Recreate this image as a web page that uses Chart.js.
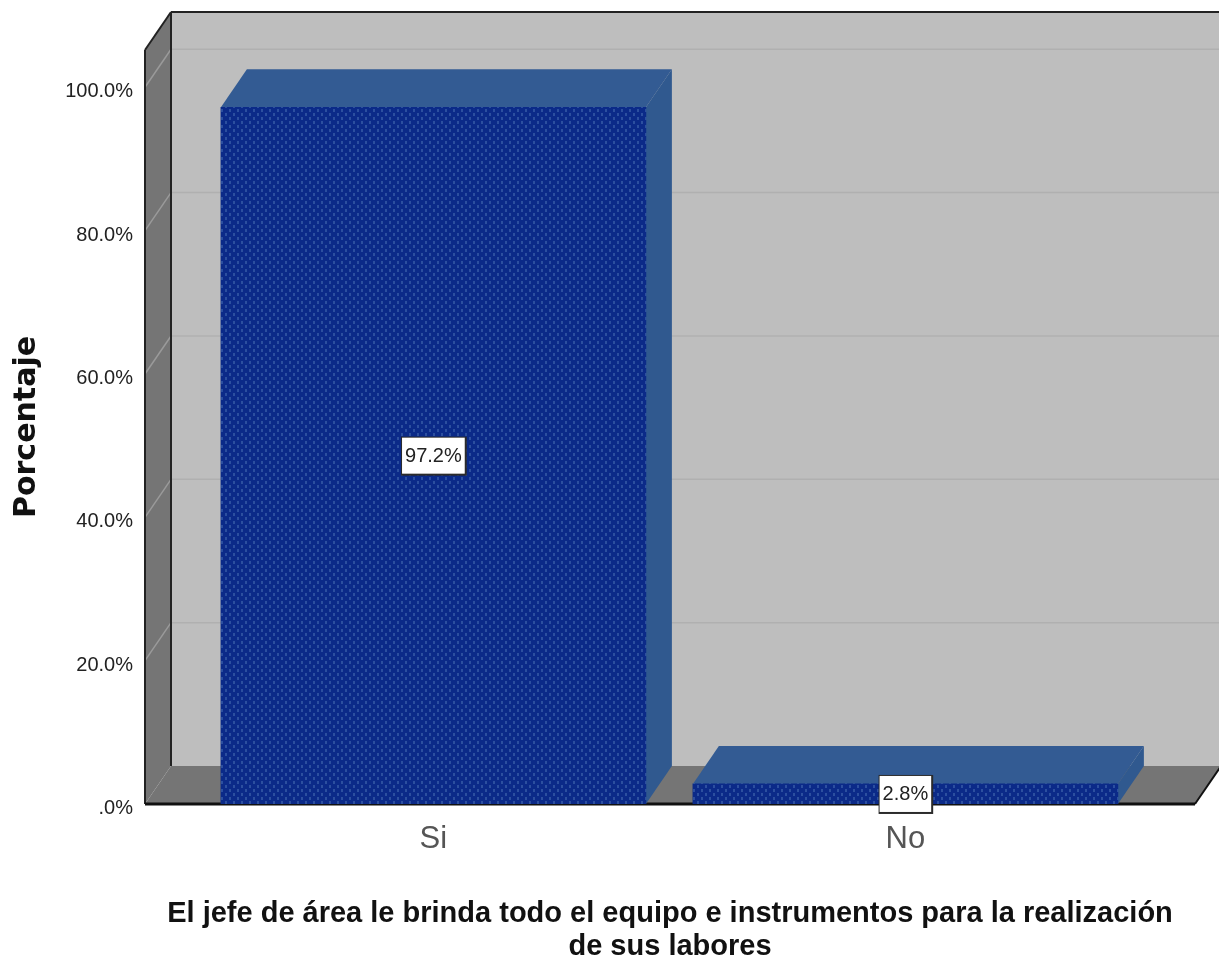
<!DOCTYPE html>
<html lang="es">
<head>
    <meta charset="UTF-8">
    <title>Porcentaje</title>
    <script src="https://cdn.jsdelivr.net/npm/chart.js"></script>
    <style>
        html, body { margin: 0; background: #fff; }
        canvas { display: block; }
    </style>
</head>
<body>
<canvas id="barChart" width="1219" height="961"></canvas>

<script>
    const categories = ["Si", "No"];
    const porcentajes = [97.2, 2.8];
    const yTicks = [0, 20, 40, 60, 80, 100];
    const xTitle = ["El jefe de área le brinda todo el equipo e instrumentos para la realización", "de sus labores"];
    const yTitle = "Porcentaje";

    // 3D depth of the SPSS style box, in pixels
    const DX = 26, DY = 38;
    const SANS = '"Liberation Sans"';

    // dotted fill of the front of the bars
    function barPattern() {
        const c = document.createElement('canvas');
        c.width = 8; c.height = 8;
        const g = c.getContext('2d');
        g.fillStyle = '#0b2a88';
        g.fillRect(0, 0, 8, 8);
        g.fillStyle = '#2c4f9f';
        g.fillRect(1, 1, 2, 3);
        g.fillRect(5, 5, 2, 3);
        return g.createPattern(c, 'repeat');
    }

    function poly(ctx, pts, fill) {
        ctx.beginPath();
        pts.forEach((p, i) => i ? ctx.lineTo(p[0], p[1]) : ctx.moveTo(p[0], p[1]));
        ctx.closePath();
        ctx.fillStyle = fill;
        ctx.fill();
    }

    function seg(ctx, x1, y1, x2, y2, color, w) {
        ctx.beginPath();
        ctx.moveTo(x1, y1);
        ctx.lineTo(x2, y2);
        ctx.strokeStyle = color;
        ctx.lineWidth = w;
        ctx.stroke();
    }

    // walls, floor and grid behind the bars
    const boxPlugin = {
        id: 'box',
        beforeDatasetsDraw(chart) {
            const ctx = chart.ctx, a = chart.chartArea, y = chart.scales.y;
            const l = a.left, r = a.right, t = a.top, b = a.bottom;
            ctx.save();
            poly(ctx, [[l + DX, t - DY], [1219, t - DY], [1219, b - DY], [l + DX, b - DY]], '#bebebe');
            poly(ctx, [[l, t], [l + DX, t - DY], [l + DX, b - DY], [l, b]], '#757575');
            poly(ctx, [[l, b], [l + DX, b - DY], [r + DX, b - DY], [r, b]], '#757575');
            yTicks.slice(1).forEach(v => {
                const py = y.getPixelForValue(v);
                seg(ctx, l, py, l + DX, py - DY, '#9a9a9a', 1.5);
                seg(ctx, l + DX, py - DY, 1219, py - DY, '#b0b0b0', 1.5);
            });
            seg(ctx, l + DX, t - DY, 1219, t - DY, '#222', 2);
            seg(ctx, l + DX, t - DY, l + DX, b - DY, '#222', 2);
            seg(ctx, l, t, l + DX, t - DY, '#222', 2);
            seg(ctx, l, t, l, b, '#222', 2);
            seg(ctx, l, b, r, b, '#111', 3);
            seg(ctx, r, b, r + DX, b - DY, '#111', 2);

            // top and side faces of each bar
            chart.getDatasetMeta(0).data.forEach(bar => {
                const x1 = bar.x - bar.width / 2, x2 = bar.x + bar.width / 2;
                poly(ctx, [[x1, bar.y], [x1 + DX, bar.y - DY], [x2 + DX, bar.y - DY], [x2, bar.y]], '#335b93');
                poly(ctx, [[x2, bar.y], [x2 + DX, bar.y - DY], [x2 + DX, b - DY], [x2, b]], '#30598f');
            });
            ctx.restore();
        },
        afterDatasetsDraw(chart) {
            const ctx = chart.ctx, y = chart.scales.y;
            ctx.save();
            ctx.font = '20px ' + SANS;
            ctx.textAlign = 'center';
            ctx.textBaseline = 'middle';
            chart.getDatasetMeta(0).data.forEach((bar, i) => {
                const text = porcentajes[i].toFixed(1) + '%';
                const cy = y.getPixelForValue(porcentajes[i] / 2);
                const w = ctx.measureText(text).width + 6;
                ctx.fillStyle = '#2b2b2b';
                ctx.fillRect(bar.x - w / 2 - 1, cy - 19, w + 3, 39);
                ctx.fillStyle = '#fff';
                ctx.fillRect(bar.x - w / 2, cy - 18, w, 36);
                ctx.fillStyle = '#222';
                ctx.fillText(text, bar.x, cy + 1);
            });
            ctx.restore();
        }
    };

    new Chart(document.getElementById('barChart').getContext('2d'), {
        type: 'bar',
        data: {
            datasets: [{
                data: categories.map((c, i) => ({ x: i, y: porcentajes[i] })),
                backgroundColor: barPattern(),
                borderWidth: 0,
                barThickness: 425
            }]
        },
        options: {
            responsive: false,
            animation: false,
            layout: { padding: { top: 50, right: 24, left: 0, bottom: 0 } },
            plugins: { legend: { display: false }, tooltip: { enabled: false } },
            scales: {
                x: {
                    type: 'linear',
                    offset: false,
                    min: -0.611,
                    max: 1.6136,
                    afterBuildTicks(s) { s.ticks = categories.map((c, i) => ({ value: i })); },
                    afterFit(s) { s.height = 157; },
                    grid: { display: false, drawTicks: false },
                    border: { display: false },
                    ticks: {
                        callback: v => categories[v],
                        font: { family: SANS, size: 31 },
                        color: '#555',
                        padding: 17,
                        maxRotation: 0
                    },
                    title: {
                        display: true,
                        text: xTitle,
                        font: { family: SANS, size: 29, weight: 'bold', lineHeight: 1.16 },
                        color: '#111',
                        padding: { top: 0, bottom: -3 }
                    }
                },
                y: {
                    min: 0,
                    max: 105.2,
                    afterBuildTicks(s) { s.ticks = yTicks.map(v => ({ value: v })); },
                    afterFit(s) { s.width = 145; },
                    grid: { display: false, drawTicks: false },
                    border: { display: false },
                    ticks: {
                        // blank first line pushes the label a few px below its tick, as in the original
                        callback: v => ['', (v === 0 ? '.0' : v.toFixed(1)) + '%'],
                        font: { family: SANS, size: 20, lineHeight: '9px' },
                        color: '#222',
                        padding: 12
                    },
                    title: {
                        display: true,
                        text: yTitle,
                        font: { family: '"DejaVu Sans"', size: 30, weight: 'bold' },
                        color: '#111',
                        padding: { top: 9, bottom: 0 }
                    }
                }
            }
        },
        plugins: [boxPlugin]
    });
</script>
</body>
</html>
